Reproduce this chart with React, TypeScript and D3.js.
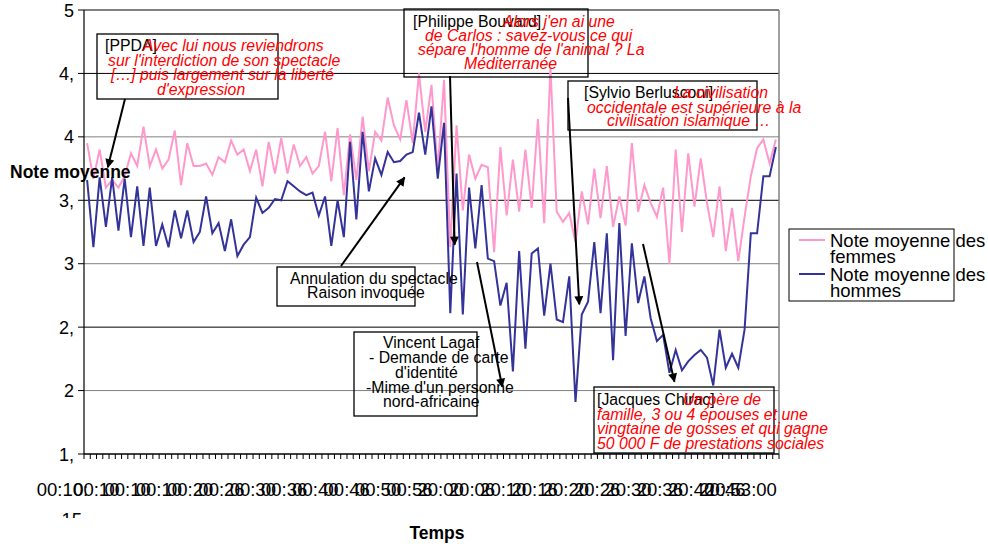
import React from 'react';
import * as d3 from 'd3';

// moyenne des notes, une valeur par pas de temps
const femmes = [
  3.95, 3.67, 3.9, 3.6, 3.66, 3.6, 3.69, 3.87, 3.77, 4.08,
  3.77, 3.9, 3.75, 3.82, 4.05, 3.62, 3.95, 3.77, 3.77, 3.79,
  3.7, 3.84, 3.8, 3.97, 3.86, 3.9, 3.73, 3.9, 3.61, 3.96,
  3.71, 3.99, 3.71, 3.94, 3.77, 3.84, 3.71, 3.77, 4.04, 3.65,
  4.07, 3.54, 4.02, 3.66, 4.16, 3.73, 4.04, 3.97, 4.31, 4.09,
  3.98, 4.29, 3.95, 4.5, 4.04, 4.41, 3.74, 4.45, 3.13, 4.09,
  3.42, 3.86, 3.67, 3.78, 3.76, 3.09, 3.92, 3.38, 3.82, 3.41,
  3.9, 3.44, 4.14, 3.32, 4.55, 3.41, 3.33, 3.4, 3.17, 3.57,
  3.31, 3.75, 3.36, 3.77, 3.29, 3.53, 3.3, 3.95, 3.41, 3.62,
  3.48, 3.37, 3.6, 3.0, 3.9, 3.25, 3.87, 3.45, 3.83, 3.48,
  3.21, 3.61, 3.1, 3.44, 3.02, 3.37, 3.69, 3.91, 3.98, 3.79,
  3.98,
];

const hommes = [
  3.66, 3.13, 3.68, 3.29, 3.68, 3.26, 3.67, 3.21, 3.61, 3.14,
  3.6, 3.14, 3.31, 3.13, 3.42, 3.2, 3.42, 3.17, 3.25, 3.53,
  3.24, 3.32, 3.1, 3.35, 3.06, 3.15, 3.21, 3.52, 3.4, 3.44,
  3.51, 3.5, 3.65, 3.61, 3.57, 3.54, 3.56, 3.38, 3.53, 3.14,
  3.5, 3.21, 3.96, 3.35, 4.04, 3.57, 3.83, 3.7, 3.88, 3.8,
  3.81, 3.86, 3.88, 4.19, 3.86, 4.24, 3.67, 4.11, 2.61, 3.71,
  2.6, 3.6, 3.12, 3.62, 3.04, 3.02, 2.67, 2.85, 2.15, 3.1,
  2.33, 3.08, 3.12, 2.59, 3.0, 2.56, 2.54, 2.9, 1.91, 2.6,
  2.7, 3.17, 2.61, 3.24, 2.24, 3.32, 2.43, 3.16, 2.69, 2.9,
  2.57, 2.39, 2.44, 2.14, 2.32, 2.16, 2.23, 2.28, 2.32, 2.26,
  2.04, 2.48, 2.18, 2.29, 2.18, 2.48, 3.24, 3.24, 3.69, 3.69,
  3.92,
];

const yTicks = [1.5, 2, 2.5, 3, 3.5, 4, 4.5, 5];
const yTickLabels = ['1,', '2', '2,', '3', '3,', '4', '4,', '5'];

// un libellé tous les 5 pas
const labelStep = 5;
const xTickLabels = [
  '00:10:', '00:10', '00:10', '00:10', '00:20', '00:26', '00:30', '00:36',
  '00:40', '00:46', '00:50', '00:56', '20:00', '20:06', '20:10', '20:16',
  '20:20', '20:26', '20:30', '20:36', '20:40', '20:46', '20:53:00',
];

const seriesNames = ['Note moyenne des femmes', 'Note moyenne des hommes'];
const seriesColors = ['#FF99CC', '#333399'];

// callouts: box, text lines, arrow target in data coords (index, note)
const callouts = [
  {
    box: [97, 34, 181, 65], from: [125, 99], to: [3.3, 3.76],
    black: [{ t: '[PPDA]', x: 105, y: 51 }],
    red: [
      { t: 'Avec lui nous reviendrons', x: 143, y: 51 },
      { t: "sur l'interdiction de son spectacle", x: 108, y: 65.6 },
      { t: '[…] puis largement sur la liberté', x: 111, y: 80.2 },
      { t: "d'expression", x: 157, y: 94.8 },
    ],
  },
  {
    box: [404, 9, 184, 68], from: [450, 76], to: [58.7, 3.15],
    black: [{ t: '[Philippe Bouvard]', x: 413, y: 27 }],
    red: [
      { t: "Alors j'en ai une", x: 503, y: 27 },
      { t: 'de Carlos : savez-vous ce qui', x: 425, y: 41 },
      { t: "sépare l'homme de l'animal ? La", x: 418, y: 55 },
      { t: 'Méditerranée', x: 464, y: 69 },
    ],
  },
  {
    box: [568, 81, 189, 49], from: [568, 98], to: [78.6, 2.68],
    black: [{ t: '[Sylvio Berlusconi]', x: 584, y: 98 }],
    red: [
      { t: 'La civilisation', x: 674, y: 98 },
      { t: 'occidentale est supérieure à la', x: 587, y: 112.5 },
      { t: 'civilisation islamique …', x: 607, y: 126 },
    ],
  },
  {
    box: [277, 267, 138, 39], from: [341, 266], to: [50.7, 3.68],
    black: [
      { t: 'Annulation du spectacle', x: 290, y: 284 },
      { t: 'Raison invoquée', x: 307, y: 298 },
    ],
    red: [],
  },
  {
    box: [354, 332, 123, 84], from: [477, 262], to: [66.3, 2.03],
    black: [
      { t: 'Vincent Lagaf', x: 383, y: 348 },
      { t: '- Demande de carte', x: 369, y: 363 },
      { t: "d'identité", x: 395, y: 378 },
      { t: "-Mime d'un personne", x: 366, y: 392.5 },
      { t: 'nord-africaine', x: 383, y: 407 },
    ],
    red: [],
  },
  {
    box: [594, 387, 180, 66], from: [643, 244], to: [93.8, 2.07],
    black: [{ t: '[Jacques Chirac]', x: 597, y: 405 }],
    red: [
      { t: 'Un père de', x: 683, y: 405 },
      { t: 'famille, 3 ou 4 épouses et une', x: 597, y: 419.5 },
      { t: 'vingtaine de gosses et qui gagne', x: 597, y: 434 },
      { t: '50 000 F de prestations sociales', x: 597, y: 448.5 },
    ],
  },
];

const FONT = '"Liberation Sans", Arial, sans-serif';

export default function App() {
  const left = 84, right = 779, top = 10, bottom = 454;
  const n = femmes.length;

  const x = d3.scaleLinear().domain([-0.5, n - 0.5]).range([left, right]);
  const y = d3.scaleLinear().domain([1.5, 5]).range([bottom, top]);

  const line = d3.line<number>().x((_, i) => x(i)).y((d) => y(d));

  const ticks = d3.range(n + 1).map((i) => x(i - 0.5));

  return (
    <svg width={988} height={544} style={{ position: 'absolute', left: 0, top: 0 }} fontFamily={FONT}>
      <defs>
        <marker id="arr" viewBox="0 0 10 10" refX="9" refY="5" markerWidth="5" markerHeight="4.5" orient="auto">
          <path d="M0,0 L10,5 L0,10 z" fill="#000" />
        </marker>
        <clipPath id="xlab">
          <rect x={0} y={470} width={988} height={48} />
        </clipPath>
      </defs>
      <rect width={988} height={544} fill="#fff" />

      {/* gridlines */}
      {yTicks.map((v, i) => (
        <line key={v} x1={left} x2={right} y1={y(v)} y2={y(v)}
          stroke={i % 2 === 0 || v === 5 ? '#000' : '#808080'} strokeWidth={1} />
      ))}
      <line x1={right} x2={right} y1={top} y2={bottom} stroke="#808080" strokeWidth={1.5} />
      <line x1={left} x2={right} y1={top} y2={top} stroke="#808080" strokeWidth={1.5} />

      {/* y axis */}
      <line x1={left} x2={left} y1={top} y2={bottom} stroke="#000" strokeWidth={1.2} />
      {yTicks.map((v, i) => (
        <g key={'yt' + v}>
          <line x1={left - 6} x2={left} y1={y(v)} y2={y(v)} stroke="#000" />
          <text x={left - 10} y={y(v) + 6.5} textAnchor="end" fontSize={18}>{yTickLabels[i]}</text>
        </g>
      ))}

      {/* x axis */}
      <line x1={left} x2={right} y1={bottom} y2={bottom} stroke="#000" strokeWidth={1.2} />
      {ticks.map((tx, i) => (
        <line key={'xt' + i} x1={tx} x2={tx} y1={bottom} y2={bottom + 5} stroke="#000" />
      ))}
      <g clipPath="url(#xlab)">
        {xTickLabels.map((l, i) => (
          <text key={'xl' + i} x={x(i * labelStep) + 1} y={496} textAnchor="end" fontSize={18.5}>{l}</text>
        ))}
        <text x={x(0) - 5} y={526} textAnchor="end" fontSize={18.5}>15</text>
      </g>

      {/* series */}
      <path d={line(femmes) || ''} fill="none" stroke={seriesColors[0]} strokeWidth={2} />
      <path d={line(hommes) || ''} fill="none" stroke={seriesColors[1]} strokeWidth={2} />

      {/* axis titles */}
      <text x={10} y={178} fontSize={17.5} fontWeight="bold">Note moyenne</text>
      <text x={437} y={539} fontSize={17.5} fontWeight="bold" textAnchor="middle">Temps</text>

      {/* callouts */}
      {callouts.map((c, k) => (
        <g key={'c' + k}>
          <rect x={c.box[0]} y={c.box[1]} width={c.box[2]} height={c.box[3]} fill="none" stroke="#000" strokeWidth={1.3} />
          <line x1={c.from[0]} y1={c.from[1]} x2={x(c.to[0])} y2={y(c.to[1])} stroke="#000" strokeWidth={2} markerEnd="url(#arr)" />
          {c.black.map((t, j) => (
            <text key={'b' + j} x={t.x} y={t.y} fontSize={15.8} fill="#000">{t.t}</text>
          ))}
          {c.red.map((t, j) => (
            <text key={'r' + j} x={t.x} y={t.y} fontSize={15.8} fill="#FF0000" fontStyle="italic">{t.t}</text>
          ))}
        </g>
      ))}

      {/* legend */}
      <rect x={789} y={229} width={165} height={72} fill="#fff" stroke="#000" strokeWidth={1} />
      {seriesNames.map((s, i) => {
        const ly = 240 + i * 34;
        const words = s.split(' ');
        return (
          <g key={'lg' + i}>
            <line x1={799} x2={825} y1={ly} y2={ly} stroke={seriesColors[i]} strokeWidth={2} />
            <text x={830} y={ly + 7} fontSize={18.5}>
              {words.slice(0, 3).join(' ')}
              <tspan x={830} dy={16}>{words.slice(3).join(' ')}</tspan>
            </text>
          </g>
        );
      })}
    </svg>
  );
}
